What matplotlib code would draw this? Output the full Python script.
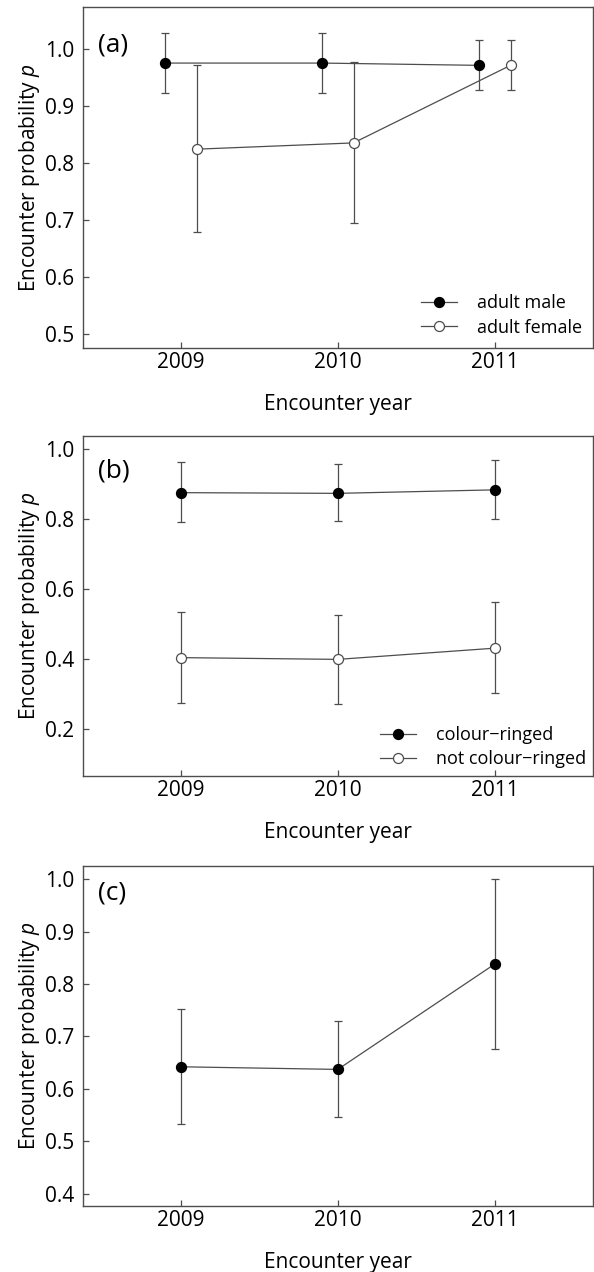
import numpy as np
import matplotlib
matplotlib.use("Agg")
from matplotlib import pyplot as plt

plt.rcParams['font.family'] = ['Open Sans', 'DejaVu Sans']
plt.rcParams['mathtext.fontset'] = 'custom'
plt.rcParams['mathtext.it'] = 'Open Sans:italic'
plt.rcParams['mathtext.rm'] = 'Open Sans'

years = [2009, 2010, 2011]

# (a) sex
male_p = [0.975, 0.975, 0.971]
male_lo = [0.922, 0.922, 0.927]
male_hi = [1.027, 1.027, 1.016]
female_p = [0.824, 0.835, 0.971]
female_lo = [0.678, 0.695, 0.927]
female_hi = [0.971, 0.977, 1.016]

# (b) ringing
ringed_p = [0.874, 0.872, 0.882]
ringed_lo = [0.790, 0.792, 0.799]
ringed_hi = [0.961, 0.956, 0.967]
notringed_p = [0.403, 0.398, 0.430]
notringed_lo = [0.274, 0.272, 0.301]
notringed_hi = [0.533, 0.524, 0.562]

# (c) all birds
all_p = [0.642, 0.637, 0.838]
all_lo = [0.533, 0.547, 0.675]
all_hi = [0.753, 0.730, 1.000]

grey = '#4d4d4d'


def series(ax, x, p, lo, hi, filled, label=None):
    p, lo, hi = np.array(p), np.array(lo), np.array(hi)
    ax.errorbar(x, p, yerr=[p - lo, hi - p], fmt='none', ecolor=grey,
                elinewidth=0.9, capsize=3.2, capthick=0.9, zorder=2)
    ax.plot(x, p, '-o', color=grey, lw=0.9, ms=7.2, zorder=3,
            mfc='black' if filled else 'white',
            mec='black' if filled else grey, mew=0.9, label=label)


def style(ax, ylim, yticks, tag, tag_y):
    ax.set_xlim(2008.375, 2011.625)
    ax.set_ylim(*ylim)
    ax.set_xticks(years)
    ax.set_yticks(yticks)
    ax.set_yticklabels(['%.1f' % t for t in yticks])
    ax.tick_params(direction='in', length=4.5, width=0.9, color=grey,
                   labelsize=15, top=False, right=False)
    ax.tick_params(axis='x', pad=3)
    ax.tick_params(axis='y', pad=6)
    for s in ax.spines.values():
        s.set_color(grey)
        s.set_linewidth(1.0)
    ax.set_xlabel('Encounter year', fontsize=15, labelpad=15)
    ax.set_ylabel('Encounter probability $\\it{p}$', fontsize=15, labelpad=2)
    ax.text(0.03, tag_y, tag, transform=ax.transAxes, fontsize=19,
            va='center', ha='left')


fig = plt.figure(figsize=(5.94, 12.72), dpi=100)
ax1 = fig.add_axes([0.1392, 0.7267, 0.859, 0.2681])
ax2 = fig.add_axes([0.1392, 0.3902, 0.859, 0.2671])
ax3 = fig.add_axes([0.1392, 0.0521, 0.859, 0.2671])

x = np.array(years, dtype=float)
series(ax1, x - 0.1, male_p, male_lo, male_hi, True, 'adult male')
series(ax1, x + 0.1, female_p, female_lo, female_hi, False, 'adult female')
style(ax1, (0.476, 1.074), [0.5, 0.6, 0.7, 0.8, 0.9, 1.0], '(a)', 0.888)
ax1.legend(loc='lower right', frameon=False, fontsize=13, handlelength=2.0,
           handletextpad=1.1, labelspacing=0.35, borderaxespad=0.2)

series(ax2, x, ringed_p, ringed_lo, ringed_hi, True, 'colour\u2212ringed')
series(ax2, x, notringed_p, notringed_lo, notringed_hi, False,
       'not colour\u2212ringed')
style(ax2, (0.066, 1.036), [0.2, 0.4, 0.6, 0.8, 1.0], '(b)', 0.897)
ax2.legend(loc='lower right', frameon=False, fontsize=13, handlelength=2.0,
           handletextpad=1.1, labelspacing=0.35, borderaxespad=0.0)

series(ax3, x, all_p, all_lo, all_hi, True)
style(ax3, (0.377, 1.025), [0.4, 0.5, 0.6, 0.7, 0.8, 0.9, 1.0], '(c)', 0.92)

fig.savefig('out.png', dpi=100)
